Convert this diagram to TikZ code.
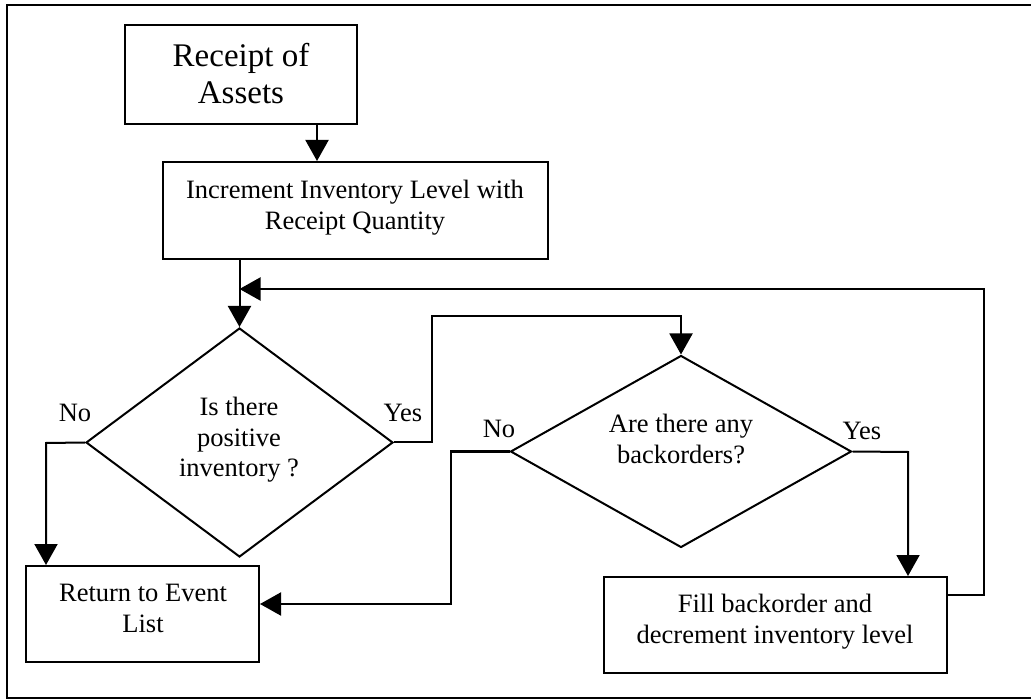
\documentclass[tikz,border=0pt]{standalone}
\usepackage{fontspec}
\setmainfont{Liberation Serif}
\usetikzlibrary{shapes.geometric,arrows.meta}
\tikzset{
  box/.style={draw, line width=2pt, rectangle, inner sep=0pt},
  dia/.style={draw, line width=2pt, diamond, inner sep=0pt},
  txt/.style={align=center, inner sep=0pt, font=\fontsize{26.5}{31}\selectfont},
  bigtxt/.style={align=center, inner sep=0pt, font=\fontsize{33}{36.5}\selectfont},
  lbl/.style={anchor=base, inner sep=0pt, font=\fontsize{26.5}{31}\selectfont},
  conn/.style={line width=2pt},
  arr/.style={line width=2pt, -{Triangle[length=21pt,width=23pt]}},
}
\begin{document}
\begin{tikzpicture}[x=1pt,y=-1pt]
\useasboundingbox (0,0) rectangle (1031,700);
% outer frame
\draw[line width=2.2pt] (1031,5) -- (7,5) -- (7,698) -- (1031,698);

% boxes
\node[box, minimum width=232pt, minimum height=99pt] (b1) at (241,74.5) {};
\node[box, minimum width=385pt, minimum height=97pt] (b2) at (355.5,210.5) {};
\node[box, minimum width=233pt, minimum height=96pt] (b3) at (142.5,614) {};
\node[box, minimum width=343pt, minimum height=96pt] (b4) at (775.5,625) {};
% diamonds
\node[dia, minimum width=307pt, minimum height=229pt] (d1) at (239.5,442.5) {};
\node[dia, minimum width=341pt, minimum height=192pt] (d2) at (681,451.5) {};

% texts
\node[bigtxt] (t1) at (241,73.6) {Receipt of\\Assets};
\node[txt] (t2) at (355,207.3) {Increment Inventory Level with\\Receipt Quantity};
\node[txt] (t3) at (143,608.3) {Return to Event\\List};
\node[txt] (t4) at (775,621.3) {Fill backorder and\\decrement inventory level};
\node[txt, font=\fontsize{26.5}{30.5}\selectfont] (t5) at (239,440) {Is there\\positive\\inventory ?};
\node[txt] (t6) at (681,439) {Are there any\\backorders?};

% branch labels
\node[lbl] (l1) at (75,421.7) {No};
\node[lbl] (l2) at (403,421) {Yes};
\node[lbl] (l3) at (499,438) {No};
\node[lbl] (l4) at (862,439) {Yes};

% bend points
\coordinate (a1) at (317,124);
\coordinate (fbR) at (984,595);
\coordinate (fbT) at (984,289);
\coordinate (n1) at (46,443);
\coordinate (y1) at (432,316);
\coordinate (n2) at (451,604);
\coordinate (y2) at (908,452);

% connectors
\draw[arr] (a1 |- b1.south) -- (a1 |- b2.north);
\draw[arr] (d1.north |- b2.south) -- (d1.north);
\draw[arr] (b4.east |- fbR) -- (fbR) -- (fbT) -- (d1.north |- fbT);
\draw[arr] (d1.west) -- (n1) -- (n1 |- b3.north);
\draw[arr] (d1.east) -- (d1.east -| y1) -- (y1) -- (y1 -| d2.north) -- (d2.north);
\draw[arr] (d2.west) -- (d2.west -| n2) -- (n2) -- (b3.east |- n2);
\draw[arr] (d2.east) -- (y2) -- (y2 |- b4.north);
\end{tikzpicture}
\end{document}
